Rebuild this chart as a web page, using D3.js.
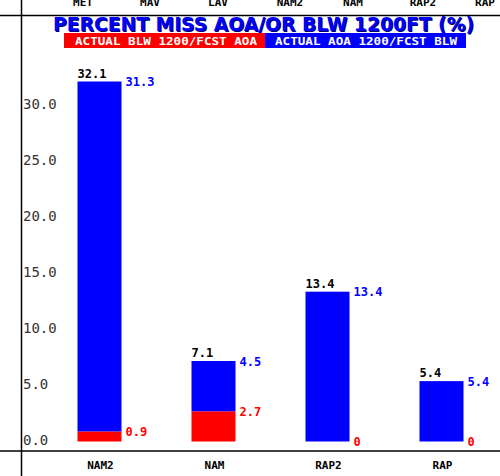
<!DOCTYPE html>
<html>
<head>
<meta charset="utf-8">
<script src="https://cdn.jsdelivr.net/npm/d3@7"></script>
<style>
  body { margin: 0; background: #fff; }
  svg { display: block; }
</style>
</head>
<body>
<div id="chart"></div>
<script>
////////////////////
// DATA
var categories = ["NAM2", "NAM", "RAP2", "RAP"];
var redVals = [0.9, 2.7, 0, 0];        // actual blw 1200 / fcst aoa
var blueVals = [31.3, 4.5, 13.4, 5.4]; // actual aoa 1200 / fcst blw
var totals = [32.1, 7.1, 13.4, 5.4];
var topModels = ["MET", "MAV", "LAV", "NAM2", "NAM", "RAP2", "RAP"];
var topModelX = [83, 150, 218, 290, 353, 423, 485];
var yTicks = [0, 5, 10, 15, 20, 25, 30];
var legendLabels = ["ACTUAL BLW 1200/FCST AOA", "ACTUAL AOA 1200/FCST BLW"];

var w = 500, h = 476;
var RED = "#ff0000", BLUE = "#0000ff";
var mono = "'DejaVu Sans Mono', 'Liberation Mono', monospace";

var svg = d3.select("#chart").append("svg")
  .attr("width", w)
  .attr("height", h);

////////////////////
// SCALES
var x = d3.scaleBand()
  .domain(categories)
  .range([42.5, 498.5])
  .paddingInner(0.614)
  .paddingOuter(0.307);

var y = d3.scaleLinear()
  .domain([0, 30])
  .range([441.5, 106.1]);

////////////////////
// FRAME
svg.append("line").attr("x1", 0).attr("x2", w).attr("y1", 15.5).attr("y2", 15.5)
  .attr("stroke", "#000").attr("stroke-width", 1.5);
svg.append("line").attr("x1", 0).attr("x2", w).attr("y1", 451).attr("y2", 451)
  .attr("stroke", "#000").attr("stroke-width", 1.5);
svg.append("line").attr("x1", 21.5).attr("x2", 21.5).attr("y1", 0).attr("y2", h)
  .attr("stroke", "#000").attr("stroke-width", 1.5);

// top row of model names (cut off by the top edge)
svg.selectAll(".topModel")
  .data(topModels)
  .enter().append("text")
  .attr("class", "topModel")
  .attr("x", function(d, i) { return topModelX[i]; })
  .attr("y", 6)
  .attr("text-anchor", "middle")
  .attr("font-family", mono)
  .attr("font-weight", "bold")
  .attr("font-size", 11)
  .text(function(d) { return d; });

////////////////////
// TITLE + LEGEND
var title = "PERCENT MISS AOA/OR BLW 1200FT (%)";
svg.append("text")
  .attr("x", 54).attr("y", 32)
  .attr("textLength", 421).attr("lengthAdjust", "spacingAndGlyphs")
  .attr("font-family", "'DejaVu Sans', sans-serif")
  .attr("font-weight", "bold").attr("font-size", 19)
  .attr("fill", "#000066")
  .text(title);
svg.append("text")
  .attr("x", 53).attr("y", 31)
  .attr("textLength", 421).attr("lengthAdjust", "spacingAndGlyphs")
  .attr("font-family", "'DejaVu Sans', sans-serif")
  .attr("font-weight", "bold").attr("font-size", 19)
  .attr("fill", BLUE)
  .text(title);

var legend = svg.selectAll(".legend")
  .data(legendLabels)
  .enter().append("g")
  .attr("class", "legend")
  .attr("transform", function(d, i) { return "translate(" + (64 + i * 201) + ",33)"; });
legend.append("rect")
  .attr("width", 201).attr("height", 15)
  .attr("fill", function(d, i) { return i == 0 ? RED : BLUE; });
legend.append("text")
  .attr("x", function(d, i) { return i == 0 ? 11 : 10; })
  .attr("y", 11.5)
  .attr("textLength", 182).attr("lengthAdjust", "spacingAndGlyphs")
  .attr("font-family", mono).attr("font-weight", "bold").attr("font-size", 11)
  .attr("fill", "#fff")
  .text(function(d) { return d; });

////////////////////
// Y AXIS (labels inside the frame)
var yAxis = svg.append("g")
  .attr("transform", "translate(21,0)")
  .call(d3.axisRight(y).tickValues(yTicks).tickSize(0).tickPadding(2)
    .tickFormat(d3.format(".1f")));
yAxis.select(".domain").remove();
yAxis.selectAll("text")
  .attr("font-family", mono)
  .attr("font-size", 14)
  .attr("fill", "#333")
  .attr("dy", "0.2em");

////////////////////
// BARS
var bars = svg.selectAll(".bar")
  .data(categories)
  .enter().append("g")
  .attr("class", "bar");

bars.append("rect")
  .attr("x", function(d) { return x(d); })
  .attr("width", x.bandwidth())
  .attr("y", function(d, i) { return y(redVals[i]); })
  .attr("height", function(d, i) { return y(0) - y(redVals[i]); })
  .attr("fill", RED);

bars.append("rect")
  .attr("x", function(d) { return x(d); })
  .attr("width", x.bandwidth())
  .attr("y", function(d, i) { return y(redVals[i] + blueVals[i]); })
  .attr("height", function(d, i) { return y(redVals[i]) - y(redVals[i] + blueVals[i]); })
  .attr("fill", BLUE);

// totals above
bars.append("text")
  .attr("x", function(d) { return x(d); })
  .attr("y", function(d, i) { return y(redVals[i] + blueVals[i]) - 4; })
  .attr("font-family", mono).attr("font-weight", "bold").attr("font-size", 12)
  .attr("fill", "#000")
  .text(function(d, i) { return totals[i].toFixed(1); });

// blue value at the right of the bar top
bars.append("text")
  .attr("x", function(d) { return x(d) + x.bandwidth() + 4; })
  .attr("y", function(d, i) { return y(redVals[i] + blueVals[i]) + 4.5; })
  .attr("font-family", mono).attr("font-weight", "bold").attr("font-size", 12)
  .attr("fill", BLUE)
  .text(function(d, i) { return blueVals[i].toFixed(1); });

// red value at the right of the red top
bars.append("text")
  .attr("x", function(d) { return x(d) + x.bandwidth() + 4; })
  .attr("y", function(d, i) { return y(redVals[i]) + 4.5; })
  .attr("font-family", mono).attr("font-weight", "bold").attr("font-size", 12)
  .attr("fill", RED)
  .text(function(d, i) { return redVals[i] == 0 ? "0" : redVals[i].toFixed(1); });

// category labels at the bottom
svg.selectAll(".cat")
  .data(categories)
  .enter().append("text")
  .attr("class", "cat")
  .attr("x", function(d) { return x(d) + x.bandwidth() / 2 + 1; })
  .attr("y", 469)
  .attr("text-anchor", "middle")
  .attr("font-family", mono).attr("font-weight", "bold").attr("font-size", 11)
  .attr("fill", "#000")
  .text(function(d) { return d; });
</script>
</body>
</html>
